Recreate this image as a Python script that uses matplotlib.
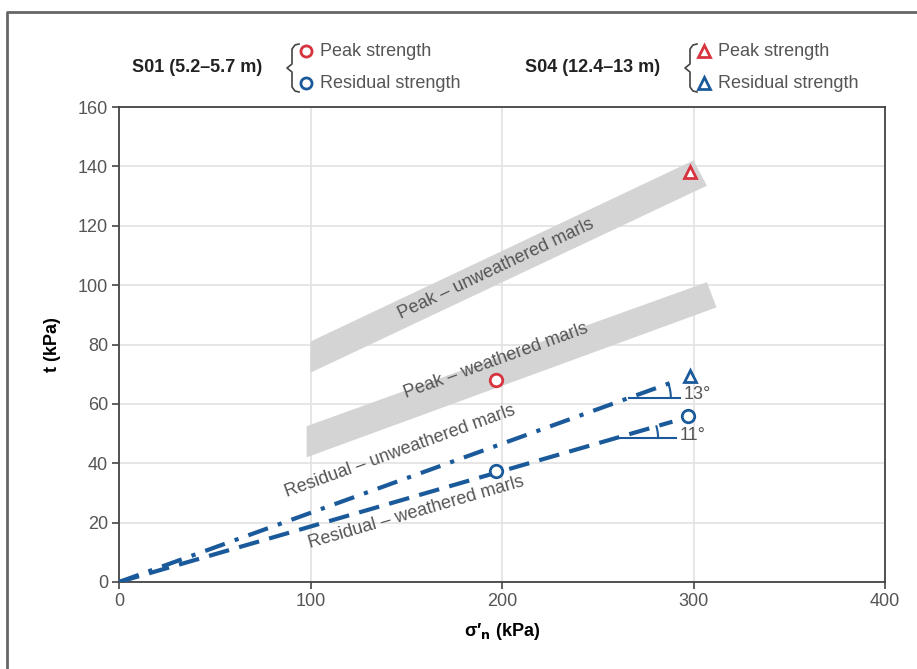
import numpy as np
import matplotlib.pyplot as plt
from matplotlib.lines import Line2D
from matplotlib.patches import Polygon

plt.rcParams['font.family'] = ['Liberation Sans', 'DejaVu Sans']

# measured points (sigma'_n, tau)
s01_peak = ([197], [68])
s01_res = ([197, 297], [37.5, 56])
s04_peak = ([298], [138])
s04_res = ([298], [69.5])

# residual envelopes
res_unw_x = [0, 292]
res_unw_y = [0, 68]
res_w_x = [0, 289]
res_w_y = [0, 54]

# peak bands (corners)
band_unw = [(100, 70.5), (100, 81), (300, 142), (307, 133.5)]
band_w = [(98, 42), (98, 52.5), (307, 101), (312, 92.5)]

angles = ['13°', '11°']
angle_y = [62, 48.5]
angle_xend = [293, 291]

red = '#d7343f'
blue = '#1b5a9a'
grey_txt = '#555555'

W, H = 917, 669
fig = plt.figure(figsize=(W / 100, H / 100), dpi=100)
ax = fig.add_axes([119 / W, 1 - 582 / H, (885 - 119) / W, (582 - 107) / H])
ax.set_xlim(0, 400)
ax.set_ylim(0, 160)
sx = (885 - 119) / 400
sy = (582 - 107) / 160

ax.set_xticks([0, 100, 200, 300, 400])
ax.set_yticks(np.arange(0, 161, 20))
ax.grid(True, color='#e2e2e2', lw=1.2)
ax.set_axisbelow(True)
for sp in ax.spines.values():
    sp.set_color('#444444')
    sp.set_linewidth(1.3)
ax.tick_params(length=5, width=1.2, color='#444444', labelcolor=grey_txt,
               labelsize=13, pad=3)
ax.set_xlabel("σ′$_{\\mathbf{n}}$ (kPa)", fontsize=13, fontweight='bold', labelpad=8)
ax.set_ylabel("t (kPa)", fontsize=13, fontweight='bold', labelpad=12)

for b in (band_unw, band_w):
    ax.add_patch(Polygon(b, closed=True, fc='#d4d4d4', ec='none', zorder=1))

def disp_angle(slope):
    return np.degrees(np.arctan(slope * sy / sx))

ax.text(197, 105.5, 'Peak – unweathered marls', rotation=disp_angle(0.305),
        ha='center', va='center', color=grey_txt, fontsize=13, rotation_mode='anchor')
ax.text(197, 74.5, 'Peak – weathered marls', rotation=disp_angle(0.232),
        ha='center', va='center', color=grey_txt, fontsize=13, rotation_mode='anchor')
ax.text(147, 44, 'Residual – unweathered marls', rotation=disp_angle(0.233),
        ha='center', va='center', color=grey_txt, fontsize=13, rotation_mode='anchor')
ax.text(155, 23.5, 'Residual – weathered marls', rotation=disp_angle(0.187),
        ha='center', va='center', color=grey_txt, fontsize=13, rotation_mode='anchor')

ax.plot(res_unw_x, res_unw_y, color=blue, lw=3, dashes=(5, 2.5, 1, 2.5), zorder=3)
ax.plot(res_w_x, res_w_y, color=blue, lw=3, dashes=(5, 2.5), zorder=3)

# angle markers
for lab, yv, xe, xs, ys in zip(angles, angle_y, angle_xend, [res_unw_x, res_w_x], [res_unw_y, res_w_y]):
    slope = ys[1] / xs[1]
    x0 = yv / slope
    ax.plot([x0, xe], [yv, yv], color=blue, lw=1.5, zorder=3)
    th = np.radians(np.linspace(0, disp_angle(slope), 20))
    r = 42
    ax.plot(x0 + r * np.cos(th) / sx, yv + r * np.sin(th) / sy, color=blue, lw=1.5, zorder=3)
    ax.text(xe + 2, yv + 1, lab, color=grey_txt, fontsize=13, va='center')

mk = dict(ls='none', mfc='white', mew=2, ms=9, zorder=4)
ax.plot(*s01_peak, marker='o', mec=red, **mk)
ax.plot(*s01_res, marker='o', mec=blue, **mk)
ax.plot(*s04_peak, marker='^', mec=red, **mk)
ax.plot(*s04_res, marker='^', mec=blue, **mk)

# outer frame
fig.add_artist(Line2D([7 / W, 7 / W, 1], [0, 1 - 12 / H, 1 - 12 / H],
                      transform=fig.transFigure, color='#666666', lw=2))

# legend header
def fx(p):
    return p / W

def fy(p):
    return 1 - p / H

def brace(xc):
    xs = [xc + 7, xc + 3, xc, xc, xc - 5, xc, xc, xc + 3, xc + 7]
    ys = [44, 45, 49, 64, 68, 72, 87, 91, 92]
    fig.add_artist(Line2D([fx(v) for v in xs], [fy(v) for v in ys],
                          transform=fig.transFigure, color='#444444', lw=1.2))

groups = ['S01 (5.2–5.7 m)', 'S04 (12.4–13 m)']
group_x = [262, 660]
brace_x = [292, 690]
leg_markers = ['o', '^']
for g, gx, bx, m in zip(groups, group_x, brace_x, leg_markers):
    fig.text(fx(gx), fy(68), g, ha='right', va='center', fontsize=13, fontweight='bold', color='#222222')
    brace(bx)
    for lab, col, yy in [('Peak strength', red, 51), ('Residual strength', blue, 83)]:
        fig.add_artist(Line2D([fx(bx + 14)], [fy(yy)], transform=fig.transFigure, marker=m,
                              mfc='white', mec=col, mew=2, ms=8))
        fig.text(fx(bx + 28), fy(yy), lab, ha='left', va='center', fontsize=13, color=grey_txt)

fig.savefig('out.png', dpi=100)
